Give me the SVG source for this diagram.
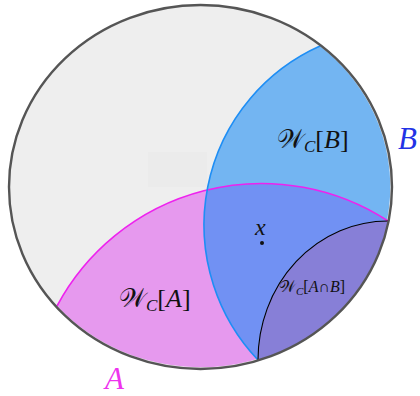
<svg xmlns="http://www.w3.org/2000/svg" width="420" height="396" viewBox="0 0 420 396">
  <style>
    .lbl { font-family: "Liberation Serif", "DejaVu Serif", serif; fill: #111; }
    .it { font-style: italic; }
    .script { font-family: "DejaVu Serif", "DejaVu Sans", "Liberation Serif", serif; font-style: normal; }
  </style>
  <defs>
    <clipPath id="clipA">
      <path d="M 57 306 A 232 232 0 0 1 388 221 A 191.5 182 0 0 1 57 306 Z"/>
    </clipPath>
  </defs>

  <!-- outer disc -->
  <g id="disc">
    <ellipse cx="200.5" cy="187" rx="191.5" ry="182" fill="#eeeeee"/>
    <rect x="148" y="152" width="59" height="35" fill="#ebebeb"/>
  </g>

  <!-- region A -->
  <g id="regionA">
    <path d="M 57 306 A 232 232 0 0 1 388 221 A 191.5 182 0 0 1 57 306 Z" fill="#e699ee"/>
  </g>

  <!-- region B -->
  <g id="regionB">
    <path d="M 320 46 A 196 196 0 0 0 258 360 A 191.5 182 0 0 0 320 46 Z" fill="#73b5f2"/>
  </g>

  <!-- overlap of A and B -->
  <g id="overlapAB">
    <path clip-path="url(#clipA)" d="M 320 46 A 196 196 0 0 0 258 360 A 191.5 182 0 0 0 320 46 Z" fill="#7191f3"/>
  </g>

  <!-- wedge of A intersect B -->
  <g id="wedgeAB">
    <path d="M 388 221 A 130 139 0 0 0 258 360 A 191.5 182 0 0 0 388 221 Z" fill="#877fd7"/>
  </g>

  <!-- boundary arcs -->
  <g id="connectors" fill="none">
    <path d="M 57 306 A 232 232 0 0 1 388 221" stroke="#ee22ee" stroke-width="1.6"/>
    <path d="M 320 46 A 196 196 0 0 0 258 360" stroke="#1e8ef5" stroke-width="1.6"/>
    <path d="M 388 221 A 130 139 0 0 0 258 360" stroke="#000" stroke-width="1.1"/>
    <ellipse cx="200.5" cy="187" rx="191.5" ry="182" stroke="#555" stroke-width="2.4"/>
  </g>

  <!-- labels -->
  <g id="labelWB">
    <text class="lbl" x="277" y="148" font-size="26"><tspan class="script">𝒲</tspan><tspan class="it" font-size="17" dy="4">C</tspan><tspan dy="-4">[</tspan><tspan class="it">B</tspan>]</text>
  </g>
  <g id="labelWA">
    <text class="lbl" x="119" y="307" font-size="26"><tspan class="script">𝒲</tspan><tspan class="it" font-size="17" dy="4">C</tspan><tspan dy="-4">[</tspan><tspan class="it">A</tspan>]</text>
  </g>
  <g id="labelWAB">
    <text class="lbl" x="279" y="292" font-size="16"><tspan class="script">𝒲</tspan><tspan class="it" font-size="11" dy="2.5">C</tspan><tspan dy="-2.5">[</tspan><tspan class="it">A</tspan>∩<tspan class="it">B</tspan>]</text>
  </g>
  <g id="pointX">
    <text class="lbl it" x="255" y="235" font-size="24">x</text>
    <circle cx="262" cy="243" r="2" fill="#111"/>
  </g>
  <g id="labelA">
    <text class="lbl it" x="105" y="389" font-size="31" style="fill:#ee33ee">A</text>
  </g>
  <g id="labelB">
    <text class="lbl it" x="398" y="149" font-size="31" style="fill:#2233e6">B</text>
  </g>
</svg>
